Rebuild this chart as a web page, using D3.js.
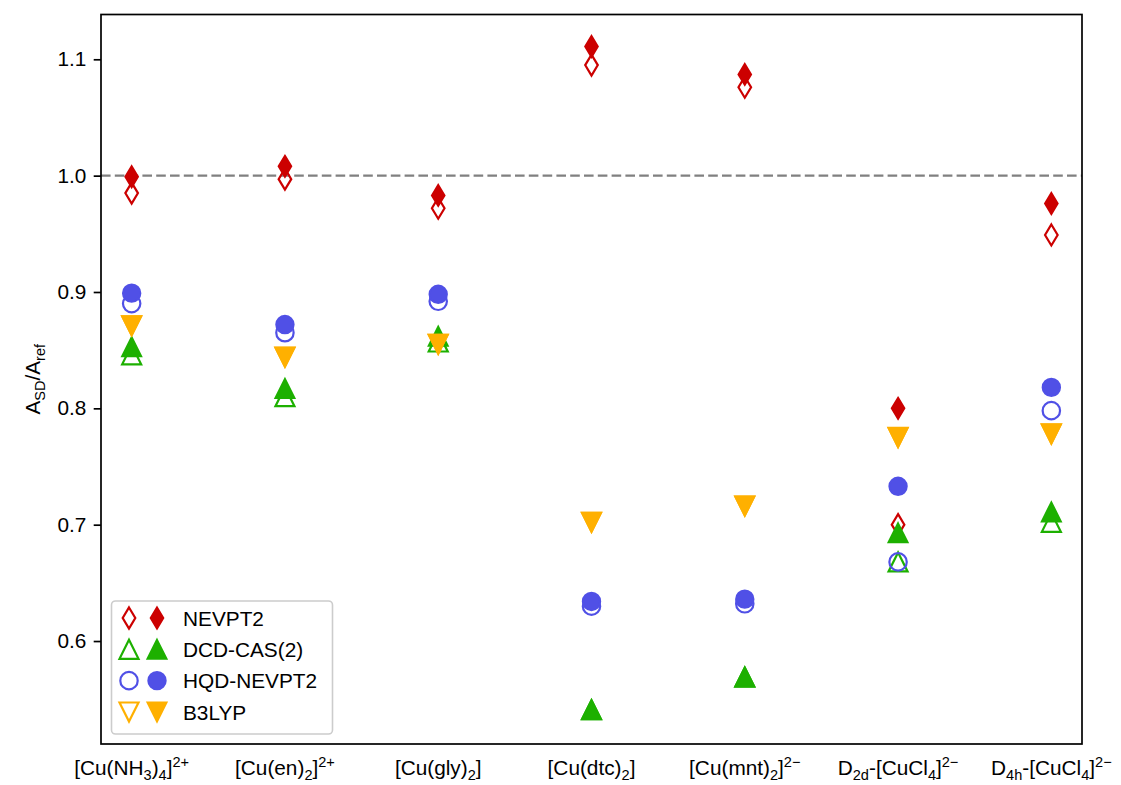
<!DOCTYPE html>
<html>
<head>
<meta charset="utf-8">
<script src="https://cdn.jsdelivr.net/npm/d3@7"></script>
<style>
body { margin: 0; background: #fff; }
text { font-family: "Liberation Sans", Arial, sans-serif; }
</style>
</head>
<body>
<svg width="1121" height="785"></svg>
<script>
const complexes = [
    "[Cu(NH_{3})_{4}]^{2+}", "[Cu(en)_{2}]^{2+}", "[Cu(gly)_{2}]", "[Cu(dtc)_{2}]",
    "[Cu(mnt)_{2}]^{2−}", "D_{2d}-[CuCl_{4}]^{2−}", "D_{4h}-[CuCl_{4}]^{2−}"
];
const methods = ["NEVPT2", "DCD-CAS(2)", "HQD-NEVPT2", "B3LYP"];

const nevpt2Open   = [0.985, 0.997, 0.972, 1.095, 1.076, 0.700, 0.949];
const nevpt2Filled = [0.999, 1.008, 0.983, 1.111, 1.087, 0.800, 0.976];
const dcdOpen      = [0.846, 0.810, 0.857, 0.541, 0.569, 0.668, 0.702];
const dcdFilled    = [0.853, 0.817, 0.862, 0.541, 0.569, 0.693, 0.711];
const hqdOpen      = [0.890, 0.865, 0.892, 0.630, 0.632, 0.668, 0.798];
const hqdFilled    = [0.899, 0.872, 0.898, 0.634, 0.636, 0.733, 0.818];
const b3lypOpen    = [0.871, 0.844, 0.855, 0.702, 0.716, 0.775, 0.778];
const b3lypFilled  = [0.871, 0.844, 0.855, 0.702, 0.716, 0.775, 0.778];

const yTicks = [0.6, 0.7, 0.8, 0.9, 1.0, 1.1];
const refLine = 1.0;

const series = [
    { name: methods[0], color: "#cc0000", shape: "diamond", open: nevpt2Open, filled: nevpt2Filled },
    { name: methods[1], color: "#1db000", shape: "up", open: dcdOpen, filled: dcdFilled },
    { name: methods[2], color: "#5050e6", shape: "circle", open: hqdOpen, filled: hqdFilled },
    { name: methods[3], color: "#ffb000", shape: "down", open: b3lypOpen, filled: b3lypFilled }
];

const svg = d3.select("svg");
const margin = { left: 101, right: 1082, top: 14.5, bottom: 744 };
const fontSize = 20.8;

const x = d3.scaleLinear().domain([-0.2, 6.2]).range([margin.left, margin.right]);
const y = d3.scaleLinear().domain([0.5115, 1.1385]).range([margin.bottom, margin.top]);

function markerPath(shape) {
    if (shape === "diamond") return "M0,-10.5L6.3,0L0,10.5L-6.3,0Z";
    if (shape === "up") return "M0,-9.5L9.5,9.5L-9.5,9.5Z";
    if (shape === "down") return "M0,9.5L9.5,-9.5L-9.5,-9.5Z";
    return "M8.7,0A8.7,8.7 0 1,1 -8.7,0A8.7,8.7 0 1,1 8.7,0Z";
}

// splits "A_{x}^{y}" into normal / sub / sup pieces
function parseMath(s) {
    const out = [];
    let buf = "";
    let i = 0;
    while (i < s.length) {
        const c = s[i];
        if ((c === "_" || c === "^") && s[i + 1] === "{") {
            if (buf) { out.push({ t: buf, k: "n" }); buf = ""; }
            const j = s.indexOf("}", i);
            out.push({ t: s.slice(i + 2, j), k: c === "_" ? "sub" : "sup" });
            i = j + 1;
        } else {
            buf += c;
            i++;
        }
    }
    if (buf) out.push({ t: buf, k: "n" });
    return out;
}

function mathText(sel, s) {
    let offset = 0;
    parseMath(s).forEach(p => {
        const target = p.k === "sub" ? 0.22 * fontSize : p.k === "sup" ? -0.4 * fontSize : 0;
        sel.append("tspan")
            .attr("dy", target - offset)
            .attr("font-size", p.k === "n" ? fontSize : fontSize * 0.7)
            .text(p.t);
        offset = target;
    });
}

// reference line
svg.append("line")
    .attr("x1", margin.left).attr("x2", margin.right)
    .attr("y1", y(refLine)).attr("y2", y(refLine))
    .attr("stroke", "#808080")
    .attr("stroke-width", 2.4)
    .attr("stroke-dasharray", "9.6,4.2");

// markers: open first, then filled on top
const plot = svg.append("g");
series.forEach(s => {
    plot.selectAll(null)
        .data(s.open)
        .enter().append("path")
        .attr("d", markerPath(s.shape))
        .attr("transform", (d, i) => `translate(${x(i)},${y(d)})`)
        .attr("fill", "none")
        .attr("stroke", s.color)
        .attr("stroke-width", 2.2);
    plot.selectAll(null)
        .data(s.filled)
        .enter().append("path")
        .attr("d", markerPath(s.shape))
        .attr("transform", (d, i) => `translate(${x(i)},${y(d)})`)
        .attr("fill", s.color)
        .attr("stroke", s.color)
        .attr("stroke-width", 2);
});

// frame
svg.append("rect")
    .attr("x", margin.left).attr("y", margin.top)
    .attr("width", margin.right - margin.left)
    .attr("height", margin.bottom - margin.top)
    .attr("fill", "none")
    .attr("stroke", "#000")
    .attr("stroke-width", 1.7);

// y axis
const yAxis = svg.append("g")
    .attr("transform", `translate(${margin.left},0)`)
    .call(d3.axisLeft(y).tickValues(yTicks).tickFormat(d3.format(".1f")).tickSize(7.3).tickPadding(7.3));
yAxis.select(".domain").remove();
yAxis.selectAll(".tick line").attr("stroke", "#000").attr("stroke-width", 1.7);
yAxis.selectAll(".tick text")
    .attr("font-size", fontSize)
    .attr("font-family", "Liberation Sans, Arial, sans-serif")
    .attr("fill", "#000");

// x tick labels
complexes.forEach((c, i) => {
    const t = svg.append("text")
        .attr("x", x(i))
        .attr("y", 775)
        .attr("text-anchor", "middle")
        .attr("fill", "#000");
    mathText(t, c);
});

// y label
const yl = svg.append("text")
    .attr("transform", `translate(40,${(margin.top + margin.bottom) / 2}) rotate(-90)`)
    .attr("text-anchor", "middle")
    .attr("fill", "#000");
mathText(yl, "A_{SD}/A_{ref}");

// legend
const legend = svg.append("g");
legend.append("rect")
    .attr("x", 111.5).attr("y", 601)
    .attr("width", 221).attr("height", 133)
    .attr("rx", 4)
    .attr("fill", "#fff").attr("fill-opacity", 0.8)
    .attr("stroke", "#cccccc").attr("stroke-width", 1.6);

const rowY = d3.scaleLinear().domain([0, 3]).range([618, 712]);
series.forEach((s, i) => {
    legend.append("path")
        .attr("d", markerPath(s.shape))
        .attr("transform", `translate(129,${rowY(i)})`)
        .attr("fill", "none")
        .attr("stroke", s.color)
        .attr("stroke-width", 2.2);
    legend.append("path")
        .attr("d", markerPath(s.shape))
        .attr("transform", `translate(157,${rowY(i)})`)
        .attr("fill", s.color)
        .attr("stroke", s.color)
        .attr("stroke-width", 2);
    legend.append("text")
        .attr("x", 183)
        .attr("y", rowY(i) + 7.5)
        .attr("font-size", fontSize)
        .attr("fill", "#000")
        .text(s.name);
});
</script>
</body>
</html>
